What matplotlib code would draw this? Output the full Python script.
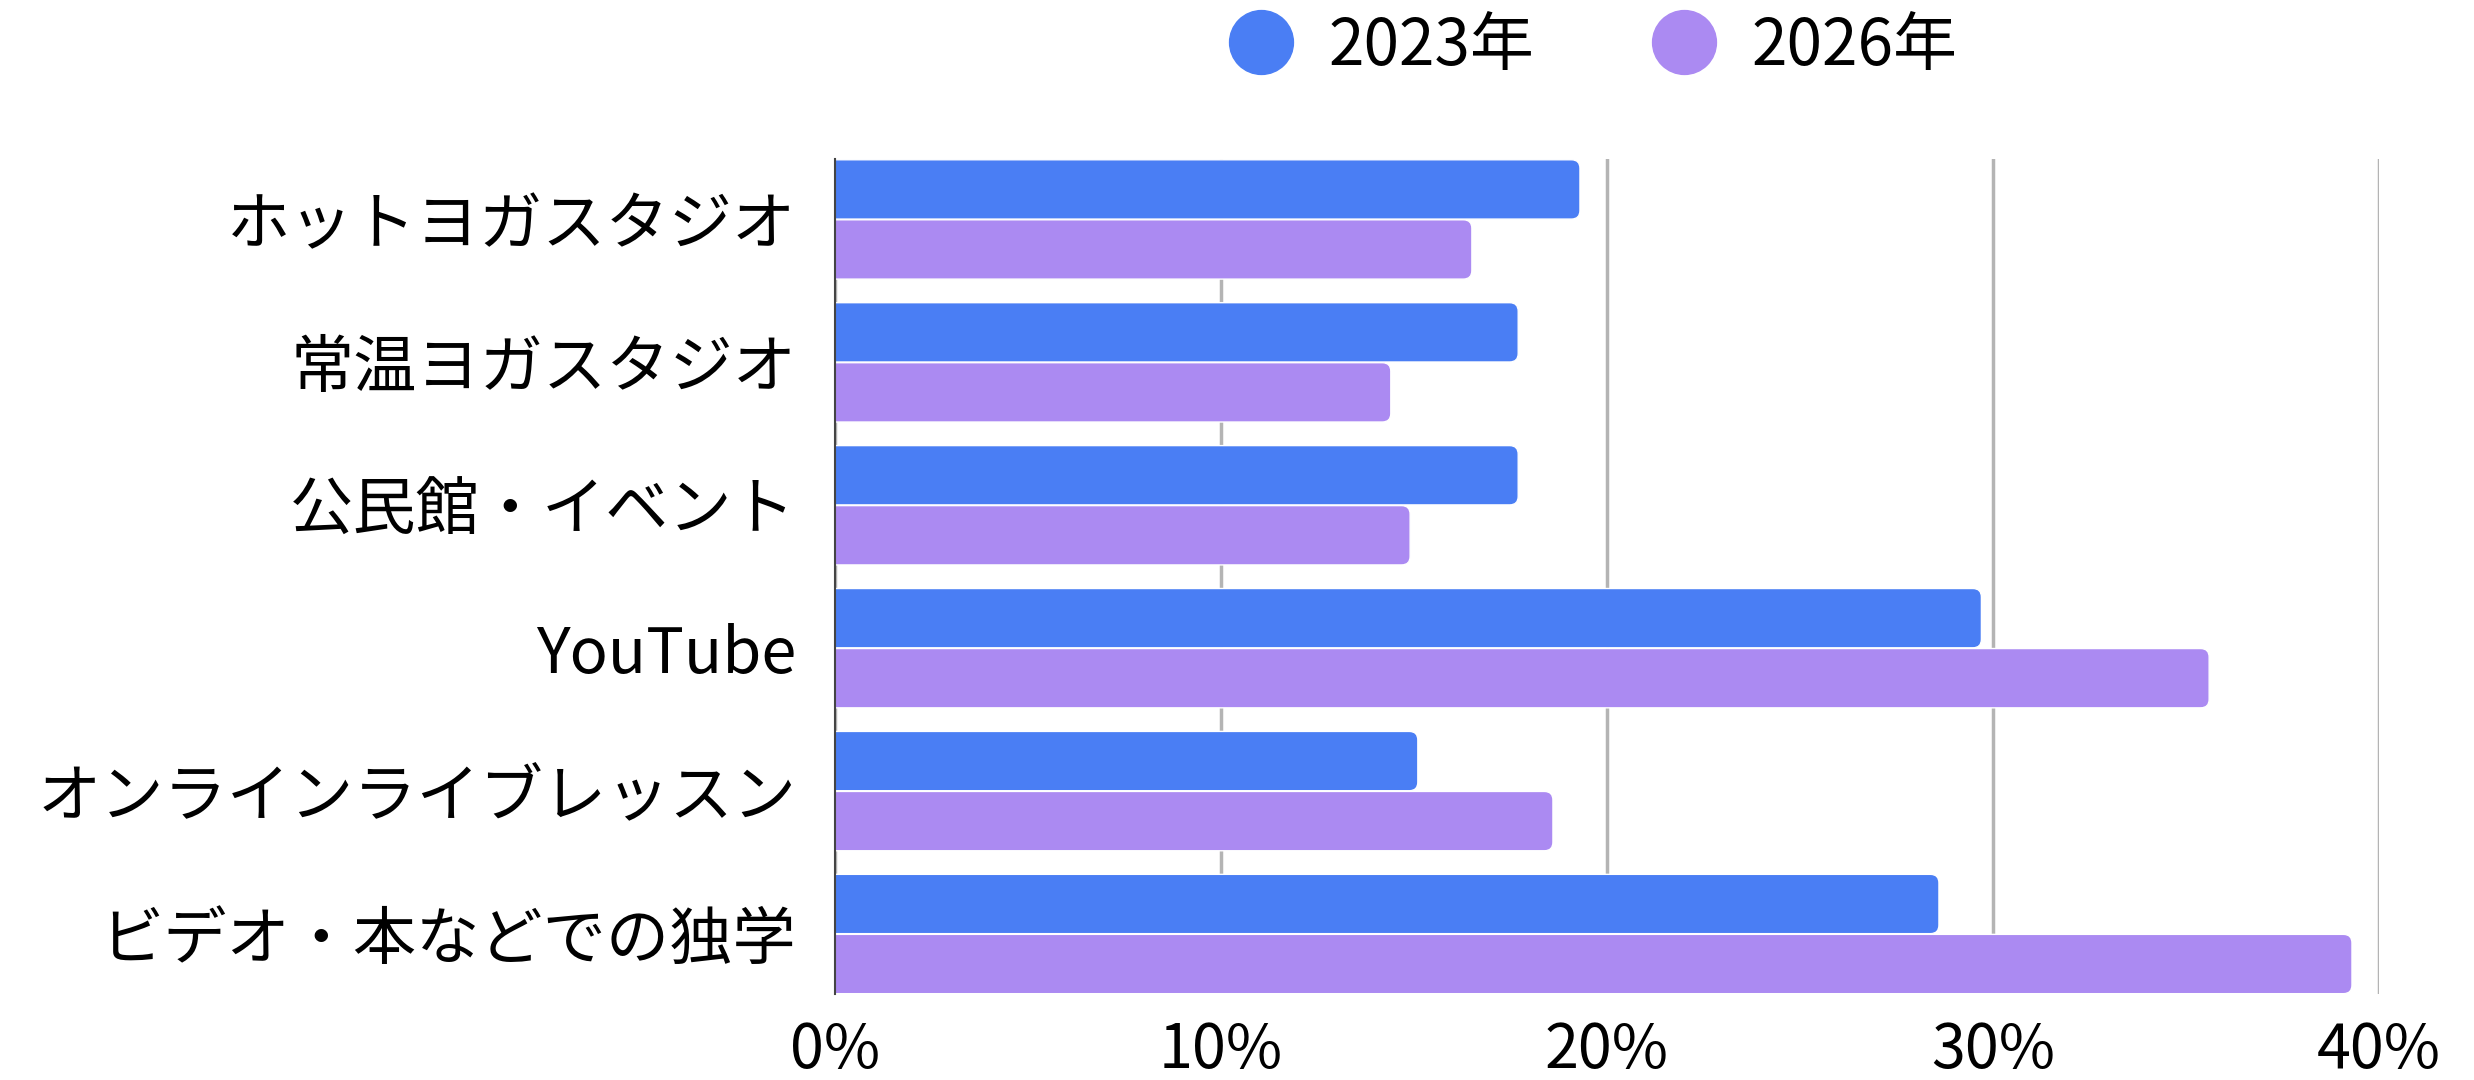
import numpy as np
import matplotlib
matplotlib.use("Agg")
import matplotlib.pyplot as plt
from matplotlib.patches import FancyBboxPatch
from matplotlib.lines import Line2D
from matplotlib.ticker import FuncFormatter

plt.rcParams['font.family'] = ['Noto Sans CJK JP', 'DejaVu Sans']

# 学習スタイル別の割合 (%)
categories = ['ホットヨガスタジオ', '常温ヨガスタジオ', '公民館・イベント',
              'YouTube', 'オンラインライブレッスン', 'ビデオ・本などでの独学']
share_2023 = [19.3, 17.7, 17.7, 29.7, 15.1, 28.6]
share_2026 = [16.5, 14.4, 14.9, 35.6, 18.6, 39.3]
series_labels = ['2023年', '2026年']
x_ticks = [0, 10, 20, 30, 40]

blue = '#4a7ef4'
purple = '#ab8af2'

fig = plt.figure(figsize=(24.74, 10.8), dpi=100)
ax = fig.add_axes([0.3375, 0.0796, 0.9616 - 0.3375, 0.8524 - 0.0796])

y = np.arange(len(categories))
h = 0.415
bars_a = ax.barh(y - 0.21, share_2023, height=h, color=blue)
bars_b = ax.barh(y + 0.21, share_2026, height=h, color=purple)

ax.set_xlim(0, 40)
ax.set_ylim(len(categories) - 0.58, -0.42)

# swap the plain rectangles for ones with rounded right ends
aspect = (38.6 / 142.6)
for bars, col in ((bars_a, blue), (bars_b, purple)):
    for r in bars:
        x0, y0 = r.get_x(), r.get_y()
        w, hh = r.get_width(), r.get_height()
        r.set_visible(False)
        p = FancyBboxPatch((x0 - 0.5, y0), w + 0.5, hh,
                           boxstyle="round,pad=0,rounding_size=0.22",
                           mutation_aspect=aspect, facecolor=col,
                           edgecolor='white', linewidth=1.0, zorder=3)
        ax.add_patch(p)

ax.set_xticks(x_ticks)
ax.xaxis.set_major_formatter(FuncFormatter(lambda v, pos: f'{int(v)}%'))
ax.set_yticks(y)
ax.set_yticklabels(categories)
ax.tick_params(axis='x', length=0, labelsize=44, colors='black', pad=18)
ax.tick_params(axis='y', length=0, labelsize=45.5, colors='black', pad=28)

ax.grid(axis='x', color='#b4b4b4', linewidth=2.5, zorder=0)
ax.set_axisbelow(True)
for s in ('top', 'right', 'bottom'):
    ax.spines[s].set_visible(False)
ax.spines['left'].set_color('#444444')
ax.spines['left'].set_linewidth(1.5)
ax.spines['left'].set_zorder(4)

handles = [Line2D([], [], marker='o', linestyle='none', markersize=46,
                  markerfacecolor=c, markeredgecolor=c)
           for c in (blue, purple)]
fig.legend(handles, series_labels, loc='center', bbox_to_anchor=(0.644, 0.957),
           ncol=2, frameon=False, fontsize=46, handletextpad=0.55,
           columnspacing=1.85, handlelength=1.0)

fig.savefig('out.png', dpi=100, facecolor='white')
